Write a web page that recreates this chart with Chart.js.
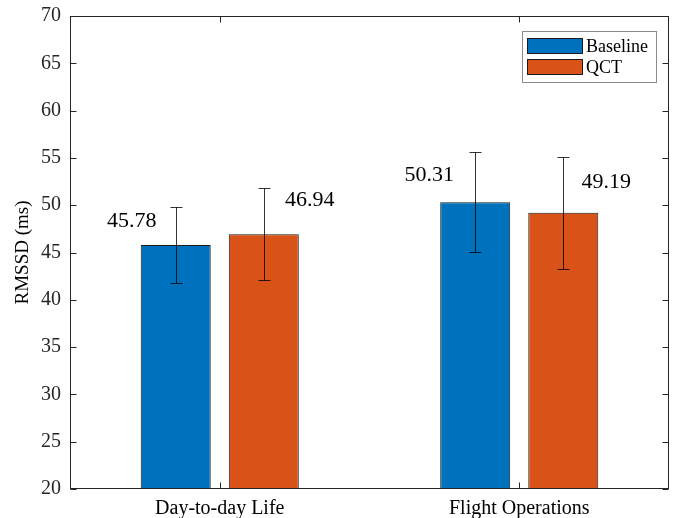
<!DOCTYPE html>
<html>
<head>
<meta charset="utf-8">
<script src="https://cdn.jsdelivr.net/npm/chart.js@4"></script>
<style>
html,body{margin:0;padding:0;background:#fff;}
#wrap{width:673px;height:518px;position:relative;}
</style>
</head>
<body>
<div id="wrap"><canvas id="c" width="673" height="518"></canvas></div>
<script>
const categories = ["Day-to-day Life", "Flight Operations"];
const seriesNames = ["Baseline", "QCT"];
const baselineValues = [45.78, 50.31];
const qctValues = [46.94, 49.19];
const baselineErrors = [4.0, 5.3];
const qctErrors = [4.85, 5.9];
const yTicks = [20, 25, 30, 35, 40, 45, 50, 55, 60, 65, 70];

const FONT = "'Liberation Serif', 'Times New Roman', serif";
const AXIS = "#262626";

// label placement offsets (pixels from bar top/center), per dataset then category
const labelOffsets = [[[-44, -24], [-46, -27]], [[46, -34], [43, -31]]];

const errorsByDataset = [baselineErrors, qctErrors];

const framePlugin = {
  id: 'frame',
  afterDatasetsDraw(chart) {
    const ctx = chart.ctx, a = chart.chartArea;
    const x = chart.scales.x, y = chart.scales.y;
    ctx.save();
    // error bars
    ctx.strokeStyle = "rgba(0,0,0,0.8)";
    ctx.lineWidth = 1;
    chart.data.datasets.forEach((ds, di) => {
      const meta = chart.getDatasetMeta(di);
      meta.data.forEach((bar, i) => {
        const v = ds.data[i], e = errorsByDataset[di][i];
        const cx = Math.round(bar.x) + 0.5;
        const yt = Math.round(y.getPixelForValue(v + e)) + 0.5, yb = Math.round(y.getPixelForValue(v - e)) + 0.5;
        ctx.beginPath();
        ctx.moveTo(cx, yt); ctx.lineTo(cx, yb);
        ctx.moveTo(cx - 6, yt); ctx.lineTo(cx + 6, yt);
        ctx.moveTo(cx - 6, yb); ctx.lineTo(cx + 6, yb);
        ctx.stroke();
      });
    });
    // value labels
    ctx.fillStyle = "#000";
    ctx.font = "22px " + FONT;
    ctx.textAlign = "center";
    ctx.textBaseline = "middle";
    chart.data.datasets.forEach((ds, di) => {
      const meta = chart.getDatasetMeta(di);
      meta.data.forEach((bar, i) => {
        const off = labelOffsets[di][i];
        ctx.fillText(ds.data[i].toFixed(2), bar.x + off[0], bar.y + off[1]);
      });
    });
    // frame
    ctx.strokeStyle = AXIS;
    ctx.lineWidth = 1;
    const L = Math.round(a.left) + 0.5, R = Math.round(a.right) - 0.5;
    const T = Math.round(a.top) + 0.5, B = Math.round(a.bottom) - 0.5;
    ctx.strokeRect(L, T, R - L, B - T);
    // inward ticks
    ctx.beginPath();
    yTicks.forEach(t => {
      const py = Math.round(y.getPixelForValue(t)) + 0.5;
      ctx.moveTo(L, py); ctx.lineTo(L + 6, py);
      ctx.moveTo(R, py); ctx.lineTo(R - 6, py);
    });
    categories.forEach((c, i) => {
      const px = Math.round(x.getPixelForValue(i)) + 0.5;
      ctx.moveTo(px, B); ctx.lineTo(px, B - 6);
      ctx.moveTo(px, T); ctx.lineTo(px, T + 6);
    });
    ctx.stroke();
    // legend
    const lx = 522, ly = 31, lw = 134, lh = 51;
    ctx.fillStyle = "#fff";
    ctx.fillRect(lx, ly, lw, lh);
    ctx.strokeStyle = "#8a8a8a";
    ctx.strokeRect(lx + 0.5, ly + 0.5, lw, lh);
    ctx.font = "18px " + FONT;
    ctx.textAlign = "left";
    chart.data.datasets.forEach((ds, di) => {
      const sy = ly + 7 + di * 21;
      ctx.fillStyle = ds.backgroundColor;
      ctx.fillRect(lx + 5, sy, 56, 16);
      ctx.strokeStyle = "#1a1a1a";
      ctx.strokeRect(lx + 5.5, sy + 0.5, 55, 15);
      ctx.fillStyle = "#000";
      ctx.fillText(ds.label, lx + 64, sy + 9);
    });
    ctx.restore();
  }
};

new Chart(document.getElementById('c'), {
  type: 'bar',
  data: {
    labels: categories,
    datasets: [
      { label: seriesNames[0], data: baselineValues, backgroundColor: "#0072BD", borderColor: "#1a1a1a", borderWidth: 1, barPercentage: 0.795, categoryPercentage: 0.588 },
      { label: seriesNames[1], data: qctValues, backgroundColor: "#D95319", borderColor: "#1a1a1a", borderWidth: 1, barPercentage: 0.795, categoryPercentage: 0.588 }
    ]
  },
  options: {
    responsive: false,
    animation: false,
    devicePixelRatio: 1,
    layout: { padding: { left: 0, right: 4, top: 16, bottom: 0 } },
    plugins: { legend: { display: false }, tooltip: { enabled: false } },
    scales: {
      x: {
        grid: { display: false, drawTicks: false },
        border: { display: false },
        ticks: { color: "#000", font: { family: FONT, size: 20 }, padding: 8, maxRotation: 0 },
        afterFit(s) { s.height = 29; s.paddingLeft = 0; s.paddingRight = 0; }
      },
      y: {
        min: 20, max: 70,
        grid: { display: false, drawTicks: false },
        border: { display: false },
        afterBuildTicks(s) { s.ticks = yTicks.map(v => ({ value: v })); },
        ticks: { color: "#262626", font: { family: FONT, size: 20 }, padding: 9 },
        title: { display: true, text: "RMSSD (ms)", color: "#000", font: { family: FONT, size: 19 }, padding: { top: 12, bottom: 0 } },
        afterFit(s) { s.width = 70; s.paddingTop = 0; s.paddingBottom = 0; }
      }
    }
  },
  plugins: [framePlugin]
});
</script>
</body>
</html>
